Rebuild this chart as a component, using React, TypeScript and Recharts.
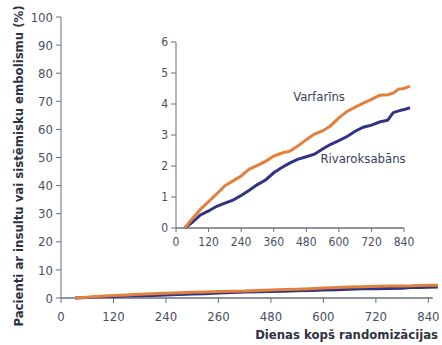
import { LineChart, Line, XAxis, YAxis, ReferenceLine, ReferenceDot } from "recharts";

const days = [32, 60, 90, 120, 150, 180, 210, 240, 270, 300, 330, 360, 390, 420, 450, 480, 510, 540, 570, 600, 630, 660, 690, 720, 750, 780, 800, 820, 840, 862];
const warfarin = [0, 0.3, 0.6, 0.85, 1.1, 1.36, 1.52, 1.68, 1.9, 2.02, 2.15, 2.32, 2.42, 2.48, 2.65, 2.85, 3.03, 3.13, 3.3, 3.55, 3.76, 3.9, 4.03, 4.15, 4.28, 4.3, 4.35, 4.48, 4.5, 4.58];
const rivaroxaban = [0, 0.18, 0.42, 0.55, 0.7, 0.8, 0.9, 1.05, 1.22, 1.4, 1.55, 1.78, 1.95, 2.1, 2.22, 2.3, 2.38, 2.55, 2.7, 2.82, 2.95, 3.12, 3.25, 3.32, 3.42, 3.48, 3.72, 3.78, 3.82, 3.88];

const xTicks = [0, 120, 240, 360, 480, 600, 720, 840];
const mainXLabels = ["0", "120", "240", "260", "480", "600", "720", "840"];
const mainYTicks = [0, 10, 20, 30, 40, 50, 60, 70, 80, 90, 100];
const insetYTicks = [0, 1, 2, 3, 4, 5, 6];

const data = days.map((d, i) => ({ day: d, warfarin: warfarin[i], rivaroxaban: rivaroxaban[i] }));

const ORANGE = "#e4803e";
const NAVY = "#2f3582";
const AXIS = "#6a6f7e";
const TEXT = "#4a4f5e";
const FONT = "DejaVu Sans";
const narrow = { fontStretch: "condensed" as const };

export default function App() {
  return (
    <div style={{ position: "absolute", left: 0, top: 0, width: 442, height: 345, background: "#fff", fontFamily: FONT }}>
      <div style={{ position: "absolute", left: 0, top: 0 }}>
        <LineChart width={442} height={345} data={data} margin={{ top: 17, right: 4, bottom: 0, left: 0 }}>
          <XAxis
            dataKey="day"
            type="number"
            domain={[0, 862]}
            ticks={xTicks}
            tickFormatter={(v) => mainXLabels[xTicks.indexOf(v)]}
            axisLine={false}
            tickSize={5}
            tickMargin={9}
            height={47}
            stroke={AXIS}
            tick={{ fill: TEXT, fontSize: 13, fontFamily: FONT, style: narrow }}
            label={{
              content: () => (
                <text x={438} y={339} textAnchor="end" fontSize={13} fontWeight="bold" fill="#2f3340" fontFamily={FONT} style={narrow}>
                  Dienas kopš randomizācijas
                </text>
              ),
            }}
          />
          <YAxis
            type="number"
            domain={[0, 100]}
            ticks={mainYTicks}
            width={61}
            tickSize={5}
            tickMargin={3}
            stroke={AXIS}
            tick={{ fill: TEXT, fontSize: 13, fontFamily: FONT, style: narrow }}
            label={{
              content: () => (
                <text
                  x={18}
                  y={166}
                  transform="rotate(-90, 18, 166)"
                  textAnchor="middle"
                  dominantBaseline="central"
                  fontSize={13}
                  fontWeight="bold"
                  fill="#2f3340"
                  fontFamily={FONT}
                  style={narrow}
                >
                  Pacienti ar insultu vai sistēmisku embolismu (%)
                </text>
              ),
            }}
          />
          <ReferenceLine segment={[{ x: 0, y: 0 }, { x: 850, y: 0 }]} stroke={AXIS} strokeWidth={1.5} />
          <Line dataKey="rivaroxaban" stroke={NAVY} strokeWidth={3} dot={false} isAnimationActive={false} />
          <Line dataKey="warfarin" stroke={ORANGE} strokeWidth={3} dot={false} isAnimationActive={false} />
        </LineChart>
      </div>
      <div style={{ position: "absolute", left: 0, top: 0 }}>
        <LineChart width={442} height={345} data={data} margin={{ top: 42, right: 32, bottom: 0, left: 0 }}>
          <XAxis
            dataKey="day"
            type="number"
            domain={[0, 862]}
            ticks={xTicks}
            axisLine={false}
            tickSize={4}
            tickMargin={5}
            height={117}
            stroke={AXIS}
            tick={{ fill: TEXT, fontSize: 12, fontFamily: FONT, style: narrow }}
          />
          <YAxis
            type="number"
            domain={[0, 6]}
            ticks={insetYTicks}
            width={176}
            tickSize={5}
            tickMargin={3}
            stroke={AXIS}
            tick={{ fill: TEXT, fontSize: 12, fontFamily: FONT, style: narrow }}
          />
          <ReferenceLine segment={[{ x: 0, y: 0 }, { x: 840, y: 0 }]} stroke={AXIS} strokeWidth={1.5} />
          <Line dataKey="rivaroxaban" stroke={NAVY} strokeWidth={3} dot={false} isAnimationActive={false} />
          <Line dataKey="warfarin" stroke={ORANGE} strokeWidth={3} dot={false} isAnimationActive={false} />
          <ReferenceDot x={527} y={4.23} r={0} fill="none" stroke="none" label={{ value: "Varfarīns", position: "center", fill: "#3a3f55", fontSize: 13, fontFamily: FONT, style: narrow }} />
          <ReferenceDot x={689} y={2.23} r={0} fill="none" stroke="none" label={{ value: "Rivaroksabāns", position: "center", fill: "#3a3f55", fontSize: 13, fontFamily: FONT, style: narrow }} />
        </LineChart>
      </div>
    </div>
  );
}
